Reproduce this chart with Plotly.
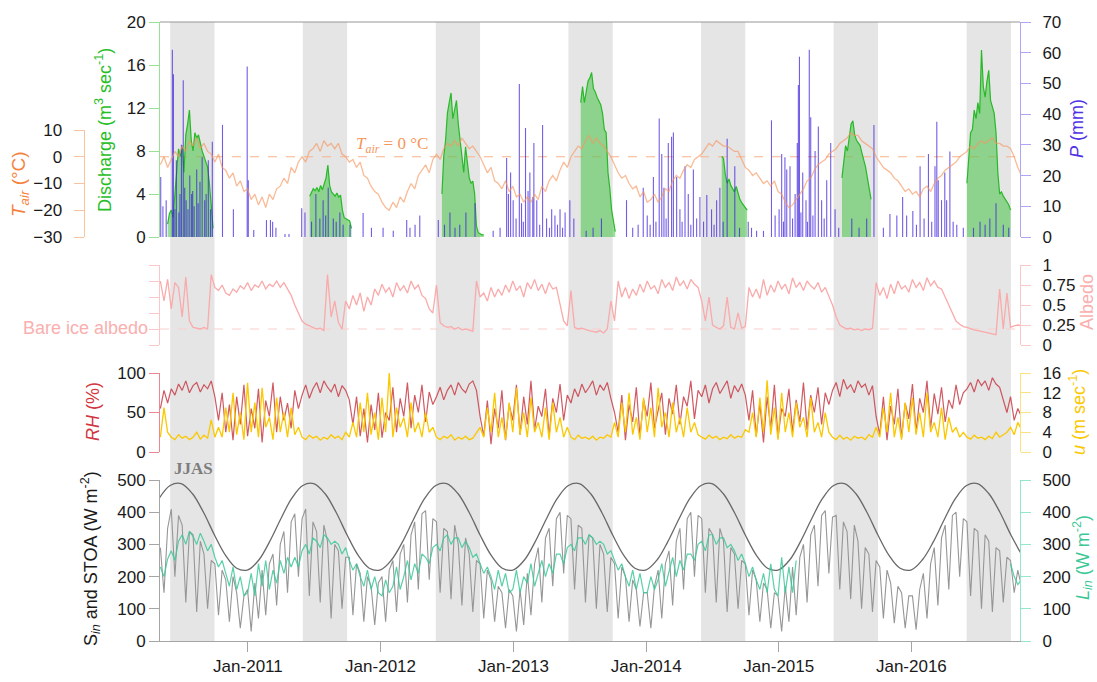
import pandas as pd
import plotly.graph_objects as go

# ---------------------------------------------------------------- data
# 10-day sampled station series, starting 2010-05-05
GRID_START = "2010-05-05"

t_air = [
    -3, 0, -4, -1, 2, 0, 4, 2, 6, 4, 7, 3, 5, 2, 1, -2, 1, -4, -5, -8, -6, -11, -9, -13,
    -12, -16, -14, -18, -15, -19, -14, -16, -12, -11, -8, -10, -4, -6, -2, 0, -2, 2, 3, 5, 2, 6, 4, 5,
    3, 5, 1, 0, -2, -1, -4, -2, -7, -8, -11, -13,
    -14, -17, -19, -20, -17, -19, -15, -17, -13, -10, -12, -7, -5, -3, -6, -1, 1, -1, 3, 5, 4, 6, 4, 7,
    5, 3, 4, 2, 0, -3, -6, -4, -9, -10, -12, -9,
    -13, -11, -15, -14, -17, -15, -17, -14, -16, -11, -13, -9, -7, -9, -5, -2, -4, 0, 2, 4, 3, 6, 8, 5,
    7, 5, 4, 2, 0, -3, -6, -8, -7, -10, -12, -11,
    -15, -13, -17, -16, -14, -17, -15, -12, -13, -9, -7, -8, -5, -3, -4, -1, 0, 1, 3, 5, 4, 6, 5, 4,
    4, 3, 2, 2, -1, -4, -5, -7, -6, -8, -10, -9,
    -11, -9, -13, -14, -17, -19, -18, -16, -14, -12, -9, -8, -5, -3, -2, -1, 1, 2, 3, 5, 6, 7, 9, 8,
    8, 6, 5, 4, 3, 0, -2, -4, -5, -6, -8, -9,
    -11, -13, -12, -14, -13, -15, -12, -11, -13, -10, -8, -7, -5, -4, -3, -2, 0, 1, 2, 4, 3, 5, 6, 5,
    6, 7, 5, 5, 4, 4, 3, 0, -4, -7,
]

albedo = [
    0.80, 0.55, 0.82, 0.45, 0.78, 0.72, 0.35, 0.85, 0.30,
    0.22, 0.21, 0.20, 0.22, 0.20,
    0.88, 0.72, 0.68, 0.75, 0.65,
    0.62, 0.70, 0.66, 0.74, 0.70, 0.78, 0.68, 0.75, 0.72, 0.80, 0.70, 0.76, 0.73, 0.80, 0.72, 0.78, 0.70,
    0.62, 0.50, 0.40, 0.30, 0.26,
    0.24, 0.22, 0.20, 0.21, 0.18,
    0.88, 0.35, 0.55, 0.28, 0.20, 0.55, 0.45, 0.62, 0.50, 0.65, 0.42, 0.60,
    0.50, 0.70, 0.62, 0.76, 0.66, 0.72, 0.60, 0.78, 0.68, 0.74, 0.65, 0.80, 0.70, 0.75, 0.62,
    0.58, 0.45, 0.40, 0.75, 0.28,
    0.24, 0.22, 0.23, 0.20, 0.22, 0.19, 0.20, 0.18, 0.17,
    0.80, 0.60,
    0.65, 0.55, 0.72, 0.60, 0.70, 0.62, 0.75, 0.66, 0.80, 0.68, 0.74, 0.60, 0.78, 0.70, 0.82, 0.68,
    0.76, 0.64, 0.78, 0.70, 0.72,
    0.50, 0.30, 0.24, 0.68, 0.22,
    0.20, 0.21, 0.19, 0.18, 0.17, 0.16, 0.18, 0.15, 0.20,
    0.55, 0.30, 0.80,
    0.60, 0.72, 0.58, 0.70, 0.62, 0.76, 0.66, 0.80, 0.70, 0.74, 0.64, 0.82, 0.72, 0.78, 0.68, 0.85,
    0.74, 0.80, 0.70, 0.82, 0.76, 0.72,
    0.55, 0.30, 0.60, 0.25,
    0.22, 0.20, 0.24, 0.60, 0.22, 0.20, 0.40, 0.21,
    0.23, 0.72,
    0.60, 0.70, 0.58, 0.82, 0.62, 0.75, 0.66, 0.80, 0.70, 0.76, 0.64, 0.84, 0.72, 0.78, 0.68, 0.80,
    0.74, 0.70, 0.78, 0.66, 0.72, 0.62,
    0.50, 0.35, 0.25,
    0.22, 0.20, 0.21, 0.19, 0.20, 0.18, 0.20, 0.19, 0.21,
    0.78,
    0.62, 0.72, 0.58, 0.76, 0.64, 0.80, 0.70, 0.74, 0.66, 0.82, 0.72, 0.78, 0.68, 0.84, 0.74, 0.80, 0.72,
    0.70, 0.60, 0.50, 0.42, 0.30, 0.26,
    0.23, 0.22, 0.20, 0.19, 0.18, 0.17, 0.16, 0.15, 0.14, 0.13,
    0.70, 0.20, 0.65, 0.22, 0.24, 0.25, 0.24,
]

rh = [
    55, 78, 62,
    80, 72, 86, 78, 90, 75, 84, 88, 76, 85, 80, 90, 70,
    40, 75, 25, 60, 15, 70, 35, 85, 20, 55, 30, 80, 12, 65, 45, 88, 25, 70, 40, 62, 30, 78, 55,
    72, 85, 68, 80, 88, 75, 90, 82, 76, 86, 70, 84, 78, 66,
    35, 70, 20, 55, 12, 60, 28, 75, 18, 50, 40, 82, 25, 68, 45, 88, 30, 72, 50, 85, 38, 76, 60,
    70, 82, 66, 78, 85, 72, 88, 80, 75, 86, 90, 78,
    45, 20, 65, 10, 55, 30, 78, 15, 60, 40, 85, 22, 70, 35, 90, 28, 58, 45, 80, 20, 68, 50, 86, 40, 72,
    62, 80, 70, 86, 75, 82, 90, 72, 85, 78, 88, 68,
    50, 25, 72, 15, 60, 38, 82, 20, 66, 45, 88, 30, 55, 75, 22, 68, 48, 85, 35, 70, 58, 90, 42, 78,
    70, 85, 62, 80, 88, 74, 82, 90, 68, 84, 76, 86, 72,
    40, 78, 20, 62, 12, 70, 30, 85, 18, 55, 45, 80, 25, 66, 38, 88, 28, 72, 50, 82, 35, 75, 60,
    78, 88, 70, 92, 80, 85, 75, 90, 82, 86, 72, 84,
    45, 22, 70, 15, 58, 35, 80, 18, 62, 42, 86, 25, 68, 50, 90, 30, 74, 48, 82, 38, 66, 55, 85, 60, 75,
    80, 88, 76, 92, 84, 90, 78, 94, 86, 82,
    65, 50, 70, 40, 55, 45,
]

wind = [
    3, 9, 4,
    3, 2.5, 3.5, 2.8, 3.2, 2.5, 3, 4, 2.6, 3.4, 2.8, 6.5, 3,
    5, 3, 9, 4, 12, 3.5, 8, 2.5, 14, 4, 10, 3, 13, 5, 7, 2.5, 11, 4, 8, 3, 9, 3.5, 5,
    3, 2.5, 3.4, 2.8, 3.2, 2.4, 3, 2.6, 3.5, 2.8, 3.2, 2.5, 4, 3,
    6, 3, 10, 4, 12, 3.5, 8, 2.5, 11, 4, 16, 3, 9, 5, 7, 3, 10, 4, 6, 3, 8, 4, 5,
    3, 2.5, 3.2, 2.8, 3.5, 2.4, 3, 2.6, 3.2, 2.5, 2.8, 4,
    5, 3, 9, 4, 12, 3, 7, 2.5, 10, 4, 13, 3.5, 8, 3, 11, 4, 6, 3, 9, 2.5, 10, 4, 7, 3, 5,
    3, 2.5, 3.4, 2.8, 3, 2.6, 3.2, 2.4, 3, 2.8, 3.5, 3,
    6, 3, 10, 4, 12, 3.5, 7, 2.5, 11, 4, 9, 3, 13, 5, 8, 3, 10, 4, 7, 3, 9, 4, 6, 3.5,
    3, 2.6, 3.4, 2.8, 3.2, 2.5, 3, 2.7, 3.5, 2.8, 3.2, 3, 4.5,
    4, 8, 3, 11, 4, 14.5, 3.5, 9, 2.5, 12, 4, 8, 3, 10, 5, 7, 3, 11, 4, 6, 3, 8, 4,
    3, 2.5, 3.4, 2.6, 3, 2.4, 3.2, 2.8, 3, 2.5, 3.5, 3,
    5, 3, 9, 4, 12, 3, 7, 2.5, 10, 4, 11, 3.5, 8, 3, 12, 4, 6, 3, 9, 2.5, 7, 4, 5, 3, 4,
    3, 2.6, 3.4, 2.8, 3, 2.5, 3.2, 2.7, 4, 3,
    3.5, 4, 5, 3.5, 6, 4.5,
]

s_in = [
    # 2010 May-Dec
    290, 150, 350, 410, 200, 390, 360, 120, 340, 330, 90, 310,
    270, 100, 250, 240, 80, 220, 190, 60, 200, 150, 40, 140,
    # 2011
    160, 30, 180, 70, 220, 80, 240, 270, 110, 300, 340, 150, 370, 395, 200, 380,
    410, 140, 370, 340, 120, 360, 310, 70, 300, 280, 100, 260, 260, 80, 240,
    210, 60, 200, 170, 50, 180,
    # 2012
    200, 60, 220, 250, 90, 270, 300, 120, 330, 370, 160, 395, 405, 190, 380,
    370, 150, 350, 340, 130, 360, 300, 110, 320, 270, 90, 250, 240, 70, 220,
    190, 60, 170, 150, 40, 160,
    # 2013
    140, 30, 160, 50, 210, 80, 240, 290, 120, 320, 350, 170, 380, 400, 210, 390,
    380, 160, 360, 350, 120, 330, 320, 100, 300, 270, 90, 260, 240, 70, 230,
    200, 60, 190, 160, 45, 150,
    # 2014
    150, 40, 170, 220, 70, 240, 280, 110, 310, 350, 160, 380, 400, 200, 390,
    380, 150, 350, 330, 120, 350, 310, 90, 290, 270, 100, 250, 240, 80, 220,
    190, 60, 180, 160, 40, 150,
    # 2015
    140, 30, 170, 60, 230, 80, 260, 300, 120, 330, 360, 170, 390, 405, 210, 385,
    390, 160, 370, 340, 130, 360, 310, 100, 290, 270, 90, 250, 230, 70, 220,
    180, 55, 170, 150, 40, 140,
    # 2016 Jan-Oct
    140, 35, 160, 210, 70, 240, 290, 110, 320, 360, 160, 390, 400, 200, 380,
    370, 140, 350, 340, 100, 330, 310, 90, 290, 280, 120, 260, 250, 150, 220, 170,
]

l_in = [
    # 2010 May-Dec
    230, 200, 255, 280, 250, 310, 330, 300, 340, 325, 300, 335,
    310, 280, 300, 260, 230, 250, 210, 170, 230, 160, 200, 140,
    # 2011
    150, 210, 140, 240, 170, 250, 160, 220, 180, 250, 210, 260, 230, 260, 230, 280,
    300, 270, 320, 310, 290, 330, 320, 300, 310, 300, 270, 290, 250, 220, 240,
    200, 170, 220, 160, 200, 150,
    # 2012
    140, 190, 150, 170, 230, 160, 200, 250, 190, 240, 210, 270, 260, 240, 290,
    300, 280, 320, 330, 300, 320, 320, 290, 310, 290, 260, 270, 240, 210, 230,
    200, 160, 220, 170, 210, 150,
    # 2013
    160, 220, 150, 200, 180, 240, 170, 210, 250, 200, 240, 210, 270, 270, 240, 290,
    300, 280, 320, 320, 300, 330, 320, 300, 310, 300, 270, 280, 250, 220, 240,
    200, 170, 220, 160, 210, 150,
    # 2014
    150, 200, 160, 190, 240, 170, 220, 260, 200, 250, 220, 270, 270, 250, 300,
    310, 280, 330, 330, 300, 320, 320, 290, 300, 280, 250, 270, 240, 200, 230,
    190, 160, 210, 150, 240, 160,
    # 2015 Jan-Feb (sensor record then stops)
    140, 260, 150, 230, 150, 250,
] + [None] * 58 + [
    # resumes late Sep 2016
    240, 200, 175, 190,
]

# daily-mean top-of-atmosphere insolation, first of each month from 2010-05-01
STOA_START = "2010-05-01"
stoa = [
    442, 483, 489, 458, 399, 329, 265, 226,
    221, 253, 307, 378, 442, 483, 489, 458, 399, 329, 265, 226,
    221, 253, 307, 378, 442, 483, 489, 458, 399, 329, 265, 226,
    221, 253, 307, 378, 442, 483, 489, 458, 399, 329, 265, 226,
    221, 253, 307, 378, 442, 483, 489, 458, 399, 329, 265, 226,
    221, 253, 307, 378, 442, 483, 489, 458, 399, 329, 265, 226,
    221, 253, 307, 378, 442, 483, 489, 458, 399, 329, 265,
]

# discharge, 5-day values for each melt season (first date of season)
q_start = ["2010-05-25", "2011-06-20", "2012-06-18", "2013-07-05",
           "2014-07-28", "2015-06-24", "2016-06-02"]
q_vals = [
    [1.2, 2.2, 2.5, 1.8, 4, 6.5, 8.2, 7.5, 8.5, 6, 9.5, 10.5, 11.8, 9, 8, 9.7, 9.2,
     9.5, 8.6, 8, 7.5, 7, 6.5, 5, 2.5, 0.8],
    [3.8, 4.2, 4.5, 4.3, 4.6, 4.2, 4.8, 4.4, 5, 5.5, 6.7, 4.8, 4.2, 4, 3.8, 4.1, 3.7,
     3.9, 2.5, 1.8, 1.7, 1.6, 1.5, 0.8],
    [4, 7.5, 9, 11.5, 12.5, 13.4, 11, 12, 12.7, 10.5, 9, 7.5, 6, 8.4, 7, 5.5, 5, 5.2,
     4, 1, 0.4, 0.3, 0.2, 0.2],
    [12.5, 14, 12.5, 13.5, 14.5, 14.8, 15.3, 13.8, 13.5, 13, 12.6, 12.3, 11.5, 10,
     9.7, 6, 4.5, 2.5, 1.5, 0.5],
    [7.5, 7.3, 5.8, 5, 5.4, 4.8, 4.5, 4.2, 4.7, 4, 3.5, 3.2, 3, 2.8, 2.5],
    [5.5, 7, 8.5, 8, 9.2, 10.5, 10.8, 9.5, 9, 8.7, 8.5, 7.8, 7.2, 6.5, 5.5, 4.5, 3.5],
    [5, 7, 9.7, 10, 11.8, 11, 12.5, 11.5, 17.4, 14, 13, 14.5, 15.5, 12.7, 12, 11.5,
     9.7, 6, 4, 4.2, 3.8, 3.5, 3.2, 3, 2.5],
]

# daily precipitation events (mm)
p_dates = [
    "2010-05-06", "2010-05-12", "2010-05-21", "2010-06-07", "2010-06-10", "2010-06-14",
    "2010-06-18", "2010-06-25", "2010-06-28", "2010-07-02", "2010-07-07", "2010-07-11",
    "2010-07-15", "2010-07-20", "2010-07-25", "2010-07-30", "2010-08-02", "2010-08-06",
    "2010-08-13", "2010-08-17", "2010-08-22", "2010-08-28", "2010-09-04", "2010-09-08",
    "2010-09-14", "2010-09-20", "2010-09-25", "2010-10-23", "2010-11-22", "2010-12-30",
    "2011-01-02", "2011-01-17", "2011-02-21", "2011-03-04", "2011-03-10", "2011-03-19",
    "2011-04-13", "2011-04-24", "2011-05-29", "2011-06-07", "2011-06-25", "2011-07-07",
    "2011-07-18", "2011-07-27", "2011-08-03", "2011-08-10", "2011-08-24", "2011-09-01",
    "2011-09-11", "2011-09-20", "2011-10-09", "2011-11-14", "2011-12-07",
    "2012-01-08", "2012-02-05", "2012-03-13", "2012-03-22", "2012-04-05", "2012-04-18",
    "2012-06-08", "2012-06-25", "2012-07-10", "2012-07-24", "2012-08-06", "2012-08-23",
    "2012-09-17", "2012-11-06", "2012-11-25", "2012-12-13", "2012-12-18", "2012-12-24",
    "2012-12-31",
    "2013-01-08", "2013-01-17", "2013-01-23", "2013-01-28", "2013-02-03", "2013-02-10",
    "2013-02-15", "2013-02-23", "2013-02-26", "2013-03-06", "2013-03-14", "2013-03-22",
    "2013-04-02", "2013-04-10", "2013-04-16", "2013-04-25", "2013-05-02", "2013-05-09",
    "2013-05-16", "2013-05-23", "2013-06-05", "2013-06-16", "2013-07-20", "2013-08-08",
    "2013-08-31", "2013-11-08", "2013-11-25", "2013-12-10", "2013-12-24",
    "2014-01-04", "2014-01-12", "2014-01-21", "2014-01-28", "2014-02-06", "2014-02-13",
    "2014-02-19", "2014-02-25", "2014-03-03", "2014-03-12", "2014-03-17", "2014-03-26",
    "2014-04-04", "2014-04-10", "2014-04-18", "2014-04-27", "2014-05-04", "2014-05-11",
    "2014-05-20", "2014-05-29", "2014-06-08", "2014-06-17", "2014-06-30", "2014-07-07",
    "2014-07-14", "2014-07-23", "2014-08-01", "2014-08-12", "2014-09-02", "2014-09-15",
    "2014-10-09", "2014-10-18", "2014-11-01", "2014-11-20", "2014-12-12", "2014-12-22",
    "2015-01-02", "2015-01-09", "2015-01-14", "2015-01-18", "2015-01-23", "2015-02-01",
    "2015-02-08", "2015-02-15", "2015-02-21", "2015-02-24", "2015-02-27", "2015-03-03",
    "2015-03-08", "2015-03-17", "2015-03-21", "2015-03-26", "2015-03-30", "2015-04-05",
    "2015-04-11", "2015-04-20", "2015-04-29", "2015-05-06", "2015-05-13", "2015-05-24",
    "2015-06-05", "2015-06-15", "2015-07-21", "2015-08-10", "2015-08-31", "2015-09-20",
    "2015-10-16", "2015-11-03", "2015-11-22", "2015-12-08", "2015-12-19",
    "2016-01-05", "2016-01-15", "2016-01-25", "2016-02-05", "2016-02-17", "2016-02-26",
    "2016-03-06", "2016-03-11", "2016-03-15", "2016-03-24", "2016-04-02", "2016-04-07",
    "2016-04-16", "2016-04-25", "2016-05-05", "2016-05-23", "2016-06-20", "2016-07-08",
    "2016-07-22", "2016-08-04", "2016-08-21", "2016-09-10", "2016-09-25",
]
p_mm = [
    19.5, 10, 12, 61, 53, 9, 25, 8, 14, 30, 51, 16, 12, 9, 20, 14, 15, 10,
    22, 11, 18, 26, 12, 14, 25, 9, 31, 36.5, 9, 55.5,
    18.5, 2.3, 5.5, 5.5, 5, 3, 1, 1, 9.4, 8, 5, 14,
    6, 12, 7, 16, 6, 5, 8, 4, 4, 7.8, 3,
    3, 2, 5.5, 3, 4, 7, 5.5, 4, 8, 3, 4, 8,
    11, 2, 3, 25.7, 14, 21, 12,
    6, 49.8, 11, 5, 35.5, 15, 21, 13, 30.6, 12, 4, 36.5,
    6, 3, 9, 7, 4, 9, 3, 8, 12, 6, 2, 3,
    6, 12, 3, 4, 16,
    7, 4, 19.5, 5, 38.6, 27, 16, 6, 30.6, 32.6, 34, 19.5,
    9, 5, 23, 14, 4, 22, 6, 13, 5, 13.7, 9, 4,
    12, 16, 5, 32, 23, 3, 5, 3, 2, 2, 38, 7,
    9, 27, 5, 26, 22, 23, 6, 14, 30.6, 49.5, 58.7, 8,
    21, 12, 5, 61, 39, 7, 28, 36, 12, 6, 18.5, 30.6,
    9, 3, 6, 3, 6, 36.5, 3, 7.5, 7, 13, 7,
    8.5, 4, 23, 6, 27, 5, 23, 37.5, 18.5, 12, 21, 12,
    27.8, 5, 4, 3, 3, 5, 4, 6, 11, 4, 3,
]

jjas_years = [2010, 2011, 2012, 2013, 2014, 2015, 2016]
tick_years = [2011, 2012, 2013, 2014, 2015, 2016]

# ---------------------------------------------------------------- layout geometry
W, H = 1097, 682
PAPER_W = 1020          # left margin 0, right margin 77
TOP, BOT = 22, 641


def fx(px):
    return px / PAPER_W


def fy(py):
    return (BOT - py) / (BOT - TOP)


FONT = "Liberation Sans, Arial, sans-serif"
SERIF = "Liberation Serif, Times New Roman, serif"
TICK_FONT = dict(family=FONT, size=17, color="#1a1a1a")

C_Q, C_Q_FILL, C_Q_AX = "rgb(40,185,40)", "rgba(70,195,70,0.55)", "rgb(150,225,150)"
C_T, C_T_AX = "rgba(246,150,95,0.65)", "rgb(250,195,160)"
C_P, C_P_AX = "rgba(60,30,220,0.72)", "rgb(175,165,245)"
C_A, C_A_AX = "rgb(250,170,170)", "rgb(250,200,200)"
C_RH, C_RH_AX = "rgba(200,60,70,0.85)", "rgb(235,135,145)"
C_U, C_U_AX = "rgb(250,200,0)", "rgb(252,225,130)"
C_S, C_STOA, C_GR_AX = "rgb(150,150,150)", "rgb(105,105,105)", "rgb(165,165,165)"
C_L, C_L_AX = "rgba(60,200,150,0.85)", "rgb(150,230,200)"


def grid(values, start=GRID_START, freq="10D"):
    return pd.date_range(start, periods=len(values), freq=freq)


# precipitation drawn as 1-day sticks
p_x, p_y = [], []
for d, v in zip(p_dates, p_mm):
    p_x += [d, d, None]
    p_y += [0, v, None]

fig = go.Figure()
# one filled trace per melt season so the fills stay separate
for start, vals in zip(q_start, q_vals):
    fig.add_trace(go.Scatter(x=grid(vals, start, "5D"), y=vals, yaxis="y", mode="lines",
                             fill="tozeroy", fillcolor=C_Q_FILL,
                             line=dict(color=C_Q, width=1.2)))
fig.add_trace(go.Scatter(x=grid(t_air), y=t_air, yaxis="y2", mode="lines",
                         line=dict(color=C_T, width=1.3)))
fig.add_trace(go.Scatter(x=p_x, y=p_y, yaxis="y3", mode="lines",
                         line=dict(color=C_P, width=1.1)))
fig.add_trace(go.Scatter(x=grid(albedo), y=albedo, yaxis="y4", mode="lines",
                         line=dict(color=C_A, width=1.3)))
fig.add_trace(go.Scatter(x=grid(rh), y=rh, yaxis="y6", mode="lines",
                         line=dict(color=C_RH, width=1.2)))
fig.add_trace(go.Scatter(x=grid(wind), y=wind, yaxis="y7", mode="lines",
                         line=dict(color=C_U, width=1.3)))
fig.add_trace(go.Scatter(x=grid(s_in), y=s_in, yaxis="y8", mode="lines",
                         line=dict(color=C_S, width=1.1)))
fig.add_trace(go.Scatter(x=grid(stoa, STOA_START, "MS"), y=stoa, yaxis="y8", mode="lines",
                         line=dict(color=C_STOA, width=1.3, shape="spline")))
fig.add_trace(go.Scatter(x=grid(l_in), y=l_in, yaxis="y9", mode="lines",
                         line=dict(color=C_L, width=1.2)))
fig.update_traces(xaxis="x", showlegend=False, hoverinfo="skip")


def yax(color, side="left", **kw):
    d = dict(side=side, showline=True, linecolor=color, linewidth=1, ticks="outside",
             ticklen=10, tickwidth=1, tickcolor=color, showgrid=False, zeroline=False,
             tickfont=TICK_FONT, fixedrange=True)
    d.update(kw)
    return d


d1 = [fy(237), 1.0]
d2 = [fy(345), fy(265)]
d3 = [fy(452), fy(373)]
d4 = [0.0, fy(480)]

fig.update_layout(
    width=W, height=H, autosize=False,
    margin=dict(l=0, r=W - PAPER_W, t=TOP, b=H - BOT),
    paper_bgcolor="white", plot_bgcolor="rgba(0,0,0,0)",
    font=dict(family=FONT, size=17, color="#1a1a1a"),
    showlegend=False,
    xaxis=dict(domain=[fx(160), 1.0], anchor="y8", type="date",
               range=["2010-05-04", "2016-10-26"],
               tickvals=[f"{y}-01-01" for y in tick_years],
               ticktext=[f"Jan-{y}" for y in tick_years],
               ticks="outside", ticklen=10, tickcolor=C_GR_AX, showline=True,
               linecolor=C_GR_AX, showgrid=False, zeroline=False, tickfont=TICK_FONT),
    yaxis=yax(C_Q_AX, domain=d1, range=[0, 20], tickvals=[0, 4, 8, 12, 16, 20], anchor="x"),
    yaxis2=yax(C_T_AX, domain=[fy(237), fy(130)], range=[-30, 10],
               tickvals=[-30, -20, -10, 0, 10], anchor="free", position=fx(83.5),
               ticklabelstandoff=8),
    yaxis3=yax(C_P_AX, "right", overlaying="y", range=[0, 70], dtick=10, anchor="x",
               ticklabelstandoff=8),
    yaxis4=yax(C_A_AX, "right", domain=d2, range=[0, 1], anchor="x",
               tickvals=[0, 0.25, 0.5, 0.75, 1], ticktext=["0", "0.25", "0.5", "0.75", "1"],
               ticklabelstandoff=8),
    yaxis5=yax(C_A_AX, "left", overlaying="y4", range=[0, 1], anchor="x",
               tickvals=[0, 0.2, 0.4, 0.6, 0.8, 1.0], showticklabels=False),
    yaxis6=yax(C_RH_AX, domain=d3, range=[0, 100], tickvals=[0, 50, 100], anchor="x"),
    yaxis7=yax(C_U_AX, "right", overlaying="y6", range=[0, 16],
               tickvals=[0, 4, 8, 12, 16], anchor="x", ticklabelstandoff=8),
    yaxis8=yax(C_GR_AX, domain=d4, range=[0, 500], dtick=100, anchor="x"),
    yaxis9=yax(C_L_AX, "right", overlaying="y8", range=[0, 500], dtick=100, anchor="x",
               ticklabelstandoff=8),
)

# JJAS shading across all panels
shapes = [dict(type="rect", xref="x", yref="paper", x0=f"{y}-06-01", x1=f"{y}-10-01",
               y0=0, y1=1, fillcolor="rgb(229,229,229)", line=dict(width=0), layer="below")
          for y in jjas_years]
shapes += [
    dict(type="line", xref="paper", yref="paper", x0=fx(160), x1=1, y0=1, y1=1,
         line=dict(color="rgb(150,150,150)", width=1)),
    dict(type="line", xref="paper", yref="y2", x0=fx(160), x1=1, y0=0, y1=0,
         line=dict(color="rgb(250,180,140)", width=1.2, dash="dash"), layer="below"),
    dict(type="line", xref="paper", yref="y5", x0=fx(160), x1=1, y0=0.2, y1=0.2,
         line=dict(color="rgb(250,205,205)", width=1.2, dash="dash"), layer="below"),
]
fig.update_layout(shapes=shapes)


def label(text, px, py, color, size=18, angle=-90, family=FONT, **kw):
    fig.add_annotation(text=text, xref="paper", yref="paper", x=fx(px), y=fy(py),
                       showarrow=False, textangle=angle, xanchor="center", yanchor="middle",
                       font=dict(family=family, size=size, color=color), **kw)


label("<i>T</i><sub><i>air</i></sub> (°C)", 20, 184, "rgb(245,130,60)", 19)
label("Discharge (m<sup>3</sup> sec<sup>-1</sup>)", 103, 130, "rgb(40,190,40)")
label("<i>P</i> (mm)", 1077, 129, "rgb(80,50,230)")
label("Albedo", 1087, 302, "rgb(250,175,175)")
label("<i>RH</i> (%)", 93, 412, "rgb(210,55,65)")
label("<i>u</i> (m sec<sup>-1</sup>)", 1077, 412, "rgb(250,200,0)")
label("S<sub><i>in</i></sub> and STOA (W m<sup>-2</sup>)", 90, 559, "#1a1a1a")
label("<i>L</i><sub><i>in</i></sub> (W m<sup>-2</sup>)", 1082, 558, "rgb(60,200,150)")
label("Bare ice albedo", 85, 328, "rgb(250,175,175)", 18, 0)
label("<i>T</i><sub><i>air</i></sub> = 0 °C", 392, 145, "rgb(245,150,90)", 17, 0, SERIF)
label("<b>JJAS</b>", 193, 468, "rgb(125,125,125)", 17, 0, SERIF)

fig.write_html("out.html")
